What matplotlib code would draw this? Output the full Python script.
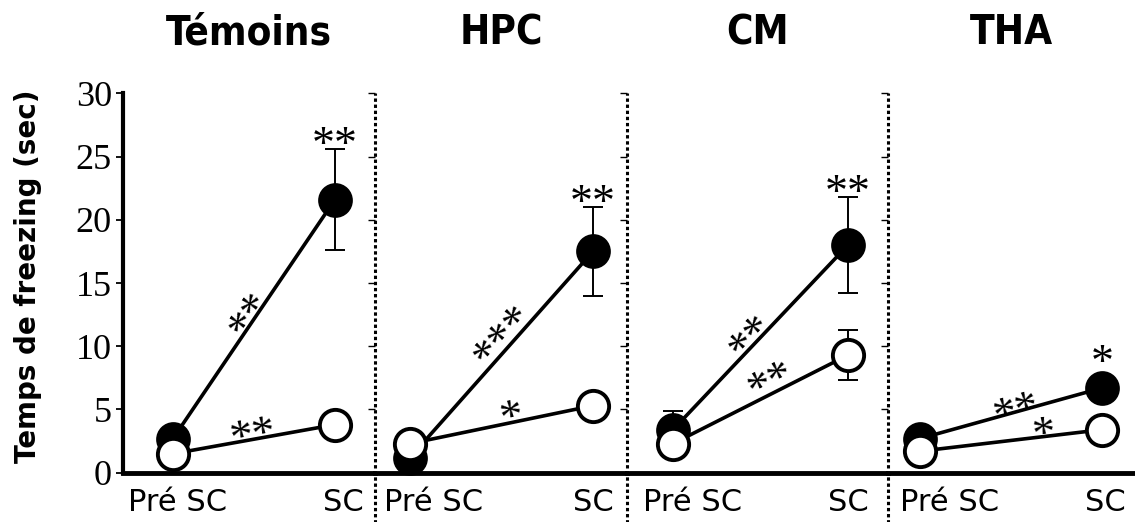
import matplotlib
matplotlib.use("Agg")
import matplotlib.pyplot as plt
import matplotlib.transforms as mtransforms
import numpy as np
from matplotlib.font_manager import FontProperties
from matplotlib.textpath import TextPath

groups = ["Témoins", "HPC", "CM", "THA"]
phases = ["Pré SC", "SC"]

# freezing time (sec), black circles and white circles
filled_mean = [[2.7, 21.6], [1.2, 17.5], [3.4, 18.0], [2.7, 6.7]]
filled_err = [[0.0, 4.0], [0.0, 3.5], [1.5, 3.8], [0.0, 0.0]]
open_mean = [[1.5, 3.8], [2.3, 5.3], [2.3, 9.3], [1.7, 3.4]]
open_err = [[0.0, 0.0], [0.0, 0.0], [0.0, 2.0], [0.0, 0.0]]

stars_sc = ["**", "**", "**", "*"]
stars_filled = ["**", "***", "**", "**"]
stars_open = ["**", "*", "**", "*"]

# layout (pixels)
W, H = 1135, 522
edges = [123, 375, 627, 888, 1135]
pre_px = [50, 35, 46, 32]      # marker position inside each panel
sc_px = [212, 218, 221, 214]
pre_lab_shift = [5, 24, 20, 30]  # tick label shift to the right
sc_lab_shift = [8, 0, 0, 3]
y_top, y_bot = 93.3, 472.7
t_filled = [0.44, 0.48, 0.42, 0.52]
up_filled = [23, 27, 20, 9]
t_open = [0.49, 0.55, 0.54, 0.68]
up_open = [12, 14, 21, 10]

PT = 72 / 100  # points per pixel
star_size = 33
star_fp = FontProperties(family="Liberation Serif", size=star_size)
ext = TextPath((0, 0), "*", size=1, prop=star_fp).get_extents()
star_mid = (ext.y0 + ext.y1) / 2 * star_size  # ink centre above baseline (pt)


def put_stars(ax, x, y, s, angle, up_px):
    a = np.radians(angle)
    dx = star_mid * np.sin(a)
    dy = up_px * PT - star_mid * np.cos(a)
    ax.annotate(s, xy=(x, y), xytext=(dx, dy), textcoords="offset points",
                ha="center", va="baseline", rotation=angle,
                rotation_mode="anchor", fontproperties=star_fp,
                annotation_clip=False, zorder=6)


def line_angle(ax, y0, y1):
    p0 = ax.transData.transform((0, y0))
    p1 = ax.transData.transform((1, y1))
    return np.degrees(np.arctan2(p1[1] - p0[1], p1[0] - p0[0]))


fig = plt.figure(figsize=(W / 100, H / 100), dpi=100)
x = np.array([0, 1])

for i in range(4):
    w = edges[i + 1] - edges[i]
    ax = fig.add_axes([edges[i] / W, (H - y_bot) / H, w / W, (y_bot - y_top) / H])
    unit = sc_px[i] - pre_px[i]
    ax.set_xlim(-pre_px[i] / unit, (w - pre_px[i]) / unit)
    ax.set_ylim(0, 30)

    fm = np.array(filled_mean[i])
    fe = np.array(filled_err[i])
    om = np.array(open_mean[i])
    oe = np.array(open_err[i])

    for mean, err in ((fm, fe), (om, oe)):
        mask = err > 0
        if mask.any():
            ax.errorbar(x[mask], mean[mask], yerr=err[mask], fmt="none", ecolor="k",
                        elinewidth=1.4, capsize=7, capthick=1.4, zorder=2,
                        clip_on=False)

    ax.plot(x, fm, "-", color="k", lw=2.6, marker="o", ms=22.5, mfc="k", mec="k",
            mew=2.5, clip_on=False, zorder=3)
    ax.plot(x, om, "-", color="k", lw=2.6, marker="o", ms=22.5, mfc="white",
            mec="k", mew=2.8, clip_on=False, zorder=4)

    # significance marks
    ang = line_angle(ax, fm[0], fm[1])
    t = t_filled[i]
    put_stars(ax, t, fm[0] + t * (fm[1] - fm[0]), stars_filled[i], ang, up_filled[i])
    ang = line_angle(ax, om[0], om[1])
    t = t_open[i]
    put_stars(ax, t, om[0] + t * (om[1] - om[0]), stars_open[i], ang, up_open[i])
    if fe[1] > 0:
        put_stars(ax, 1, fm[1] + fe[1], stars_sc[i], 0, 13)
    else:
        put_stars(ax, 1, fm[1], stars_sc[i], 0, 34)

    ax.spines["top"].set_visible(False)
    ax.spines["right"].set_visible(False)
    ax.spines["bottom"].set_linewidth(3.5)
    ax.set_yticks(range(0, 31, 5))
    ax.set_xticks(x, phases)
    ax.tick_params(axis="x", length=0, pad=11, labelsize=22)
    for lab, sh in zip(ax.get_xticklabels(), (pre_lab_shift[i], sc_lab_shift[i])):
        lab.set_transform(lab.get_transform() +
                          mtransforms.ScaledTranslation(sh / 100, 0, fig.dpi_scale_trans))
    if i == 0:
        ax.spines["left"].set_linewidth(3)
        ax.tick_params(axis="y", direction="out", length=5, width=1.3, pad=3,
                       labelsize=26)
        for lab in ax.get_yticklabels():
            lab.set_fontfamily("Liberation Serif")
    else:
        ax.spines["left"].set_visible(False)
        ax.tick_params(axis="y", direction="out", length=5, width=1,
                       labelleft=False)
        ax.plot([0, 0], [-0.14, 1], transform=ax.transAxes, color="k", lw=2.2,
                dashes=(1.1, 0.9), clip_on=False, zorder=5)

    ax.text(0.5, 1 + 60 / (y_bot - y_top), groups[i], transform=ax.transAxes,
            ha="center", va="center", fontsize=29, fontweight="bold",
            fontstretch="condensed")

fig.text(28 / W, 1 - 276 / H, "Temps de freezing (sec)", rotation=90,
         ha="center", va="center", fontsize=20, fontweight="bold")

fig.savefig("out.png", dpi=100)
